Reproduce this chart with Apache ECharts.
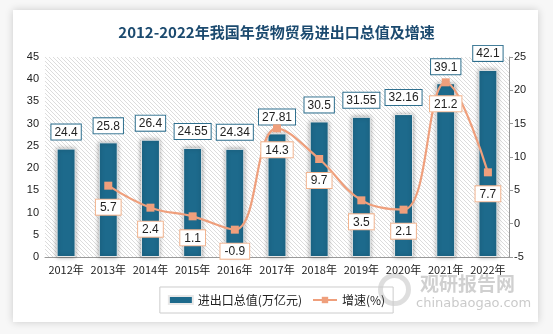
<!DOCTYPE html>
<html><head><meta charset="utf-8">
<script src="https://cdn.jsdelivr.net/npm/echarts@6/dist/echarts.min.js"></script>
<style>html,body{margin:0;padding:0;background:#f7f7f7}#c{width:553px;height:334px}</style>
</head><body><div id="c"></div>
<script>
const categories = ['2012年','2013年','2014年','2015年','2016年','2017年','2018年','2019年','2020年','2021年','2022年'];
const totalValues = [24.4, 25.8, 26.4, 24.55, 24.34, 27.81, 30.5, 31.55, 32.16, 39.1, 42.1];
const growthValues = [null, 5.7, 2.4, 1.1, -0.9, 14.3, 9.7, 3.5, 2.1, 21.2, 7.7];
const leftTicks = {min: 0, max: 45, interval: 5};
const rightTicks = {min: -5, max: 25, interval: 5};

const pc = document.createElement('canvas');
pc.width = 4; pc.height = 4;
const g = pc.getContext('2d');
g.fillStyle = '#ffffff'; g.fillRect(0,0,4,4);
g.strokeStyle = '#dcdcdc'; g.lineWidth = 1;
g.beginPath(); g.moveTo(0,0); g.lineTo(4,4); g.moveTo(-1,3); g.lineTo(1,5); g.moveTo(3,-1); g.lineTo(5,1); g.stroke();

const chart = echarts.init(document.getElementById('c'));
const BLUE = '#1d6a8c', ORANGE = '#ef9f7c';
chart.setOption({
  animation: false,
  graphic: [
    {type:'rect', left:13, top:10, shape:{width:525, height:312}, z:-10,
     style:{fill:'#fff', shadowBlur:8, shadowColor:'rgba(0,0,0,0.18)'}},
    {type:'text', left:420, top:274, z:-5, style:{text:'观研报告网', fill:'rgba(150,150,150,0.45)', font:'bold 19px "Noto Sans CJK SC"'}},
    {type:'text', left:416, top:297, z:-5, style:{text:'chinabaogao.com', fill:'rgba(150,150,150,0.5)', font:'13px "DejaVu Sans"'}},
    {type:'circle', left:378, top:273, z:-5, shape:{r:14}, style:{fill:'none', stroke:'rgba(160,160,160,0.35)', lineWidth:5}}
  ],
  title: {text:'2012-2022年我国年货物贸易进出口总值及增速', left:'center', top:20,
    textStyle:{fontSize:15, fontWeight:'bold', color:'#1b4a6f', fontFamily:'"Noto Sans CJK SC"'}},
  grid: {left:45, right:44, top:57, bottom:77, show:true, borderWidth:0,
    backgroundColor:{image: pc, repeat:'repeat'}},
  legend: {bottom:21, left:'center', itemGap:10, padding:[7,8], borderColor:'#cccccc', borderWidth:1,
    textStyle:{fontSize:12, color:'#222', fontFamily:'"Noto Sans CJK SC"'},
    data:[{name:'进出口总值(万亿元)', icon:'rect'}, {name:'增速(%)'}], itemWidth:24, itemHeight:8},
  xAxis: {type:'category', data:categories,
    axisLine:{lineStyle:{color:'#999'}}, axisTick:{show:false},
    axisLabel:{color:'#222', fontSize:11, margin:7, interval:0, fontFamily:'"Noto Sans CJK SC"'}},
  yAxis: [
    {type:'value', min:leftTicks.min, max:leftTicks.max, interval:leftTicks.interval,
     splitLine:{show:false}, axisLine:{show:false}, axisTick:{show:false},
     axisLabel:{color:'#222', fontSize:11, margin:6}},
    {type:'value', min:rightTicks.min, max:rightTicks.max, interval:rightTicks.interval,
     splitLine:{show:false}, axisLine:{show:true, lineStyle:{color:'#999'}}, axisTick:{show:true, length:4, lineStyle:{color:'#999'}},
     axisLabel:{color:'#222', fontSize:11, margin:5}}
  ],
  series: [
    {name:'进出口总值(万亿元)', type:'bar', data:totalValues, barWidth:'45%', yAxisIndex:0,
     itemStyle:{color:BLUE, borderColor:'#e8e8e8', borderWidth:1, shadowColor:'rgba(0,0,0,0.35)', shadowBlur:4},
     label:{show:true, position:'top', distance:9, color:'#222', fontSize:12,
       backgroundColor:'#fff', borderColor:'#2e6f8e', borderWidth:1, padding:[2,3,1,3]}},
    {name:'增速(%)', type:'line', data:growthValues, yAxisIndex:1, smooth:0.4, connectNulls:false,
     symbol:'rect', symbolSize:8, lineStyle:{color:ORANGE, width:2.2}, itemStyle:{color:ORANGE},
     label:{show:true, position:'bottom', distance:10, color:'#222', fontSize:12,
       backgroundColor:'#fff', borderColor:'#f2b48f', borderWidth:1, padding:[2,4,1,4]}}
  ]
});
</script></body></html>
